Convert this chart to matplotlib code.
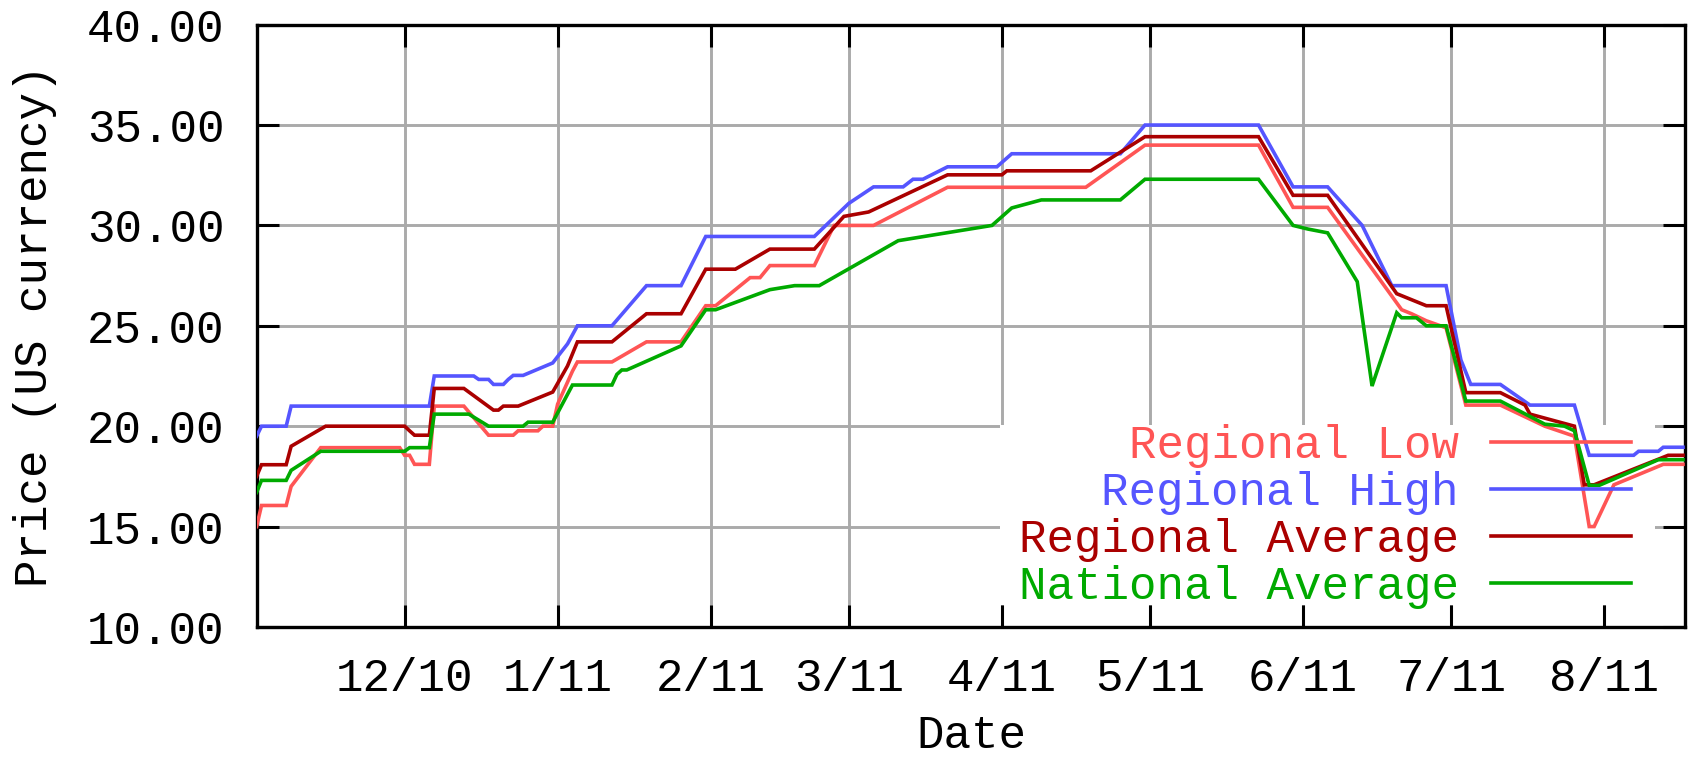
import matplotlib
matplotlib.use('Agg')
import matplotlib.pyplot as plt
from matplotlib.patches import Rectangle
from matplotlib.ticker import FormatStrFormatter
import pandas as pd

plt.rcParams['font.family'] = ['Liberation Mono', 'DejaVu Sans Mono', 'DejaVu Sans']

# ---------------- data ----------------
low_dates = ['2010-11-01', '2010-11-02', '2010-11-07', '2010-11-08', '2010-11-14', '2010-11-30',
             '2010-12-01', '2010-12-02', '2010-12-03', '2010-12-06', '2010-12-07', '2010-12-13',
             '2010-12-18', '2010-12-23', '2010-12-24', '2010-12-28', '2010-12-29', '2010-12-31',
             '2011-01-01', '2011-01-04', '2011-01-05', '2011-01-12', '2011-01-19', '2011-01-26',
             '2011-01-31', '2011-02-02', '2011-02-09', '2011-02-11', '2011-02-13', '2011-02-22',
             '2011-02-26', '2011-03-06', '2011-03-21', '2011-04-18', '2011-04-30', '2011-05-23',
             '2011-05-30', '2011-06-06', '2011-06-21', '2011-06-23', '2011-06-26', '2011-06-30',
             '2011-07-04', '2011-07-11', '2011-07-20', '2011-07-26', '2011-07-29', '2011-07-30',
             '2011-08-03', '2011-08-13', '2011-08-17']
low_vals = [15.0, 16.05, 16.05, 17.0, 18.93, 18.93,
            18.55, 18.55, 18.1, 18.1, 21.0, 21.0,
            19.55, 19.55, 19.77, 19.77, 20.0, 20.0,
            21.1, 22.74, 23.2, 23.2, 24.2, 24.2,
            26.0, 26.0, 27.4, 27.4, 28.0, 28.0,
            30.0, 30.0, 31.9, 31.9, 34.0, 34.0,
            30.9, 30.9, 25.8, 25.6, 25.25, 24.9,
            21.05, 21.05, 20.0, 19.5, 15.0, 15.0,
            17.08, 18.1, 18.1]

high_dates = ['2010-11-01', '2010-11-02', '2010-11-07', '2010-11-08', '2010-12-06', '2010-12-07',
              '2010-12-15', '2010-12-16', '2010-12-18', '2010-12-19', '2010-12-21', '2010-12-22',
              '2010-12-23', '2010-12-25', '2010-12-31', '2011-01-03', '2011-01-05', '2011-01-12',
              '2011-01-19', '2011-01-26', '2011-01-31', '2011-02-22', '2011-03-01', '2011-03-06',
              '2011-03-12', '2011-03-14', '2011-03-16', '2011-03-21', '2011-03-31', '2011-04-03',
              '2011-04-25', '2011-04-30', '2011-05-23', '2011-05-30', '2011-06-06', '2011-06-13',
              '2011-06-19', '2011-06-30', '2011-07-03', '2011-07-05', '2011-07-11', '2011-07-17',
              '2011-07-26', '2011-07-29', '2011-08-07', '2011-08-08', '2011-08-12', '2011-08-13',
              '2011-08-17']
high_vals = [19.5, 20.0, 20.0, 21.0, 21.0, 22.5,
             22.5, 22.33, 22.33, 22.08, 22.08, 22.33,
             22.53, 22.53, 23.15, 24.1, 25.0, 25.0,
             27.0, 27.0, 29.45, 29.45, 31.1, 31.92,
             31.92, 32.3, 32.3, 32.92, 32.92, 33.57,
             33.57, 35.0, 35.0, 31.92, 31.92, 30.0,
             27.0, 27.0, 23.3, 22.08, 22.08, 21.05,
             21.05, 18.55, 18.55, 18.75, 18.75, 18.95,
             18.95]

avg_dates = ['2010-11-01', '2010-11-02', '2010-11-07', '2010-11-08', '2010-11-15', '2010-12-01',
             '2010-12-02', '2010-12-03', '2010-12-06', '2010-12-07', '2010-12-13', '2010-12-19',
             '2010-12-20', '2010-12-21', '2010-12-24', '2010-12-31', '2011-01-03', '2011-01-05',
             '2011-01-12', '2011-01-19', '2011-01-26', '2011-01-31', '2011-02-06', '2011-02-13',
             '2011-02-22', '2011-02-28', '2011-03-05', '2011-03-21', '2011-04-01', '2011-04-02',
             '2011-04-19', '2011-04-30', '2011-05-23', '2011-05-30', '2011-06-06', '2011-06-20',
             '2011-06-26', '2011-06-30', '2011-07-04', '2011-07-11', '2011-07-16', '2011-07-17',
             '2011-07-26', '2011-07-28', '2011-07-30', '2011-08-14', '2011-08-17']
avg_vals = [17.5, 18.08, 18.08, 19.0, 20.0, 20.0,
            19.77, 19.55, 19.55, 21.88, 21.88, 20.8,
            20.8, 21.0, 21.0, 21.7, 23.0, 24.2,
            24.2, 25.6, 25.6, 27.82, 27.82, 28.82,
            28.82, 30.45, 30.67, 32.52, 32.52, 32.72,
            32.72, 34.42, 34.42, 31.5, 31.5, 26.6,
            26.0, 26.0, 21.67, 21.67, 21.05, 20.6,
            20.0, 17.08, 17.08, 18.55, 18.55]

nat_dates = ['2010-11-01', '2010-11-02', '2010-11-07', '2010-11-08', '2010-11-14', '2010-12-01',
             '2010-12-02', '2010-12-06', '2010-12-07', '2010-12-14', '2010-12-18', '2010-12-25',
             '2010-12-26', '2010-12-31', '2011-01-04', '2011-01-12', '2011-01-13', '2011-01-14',
             '2011-01-15', '2011-01-26', '2011-01-31', '2011-02-02', '2011-02-13', '2011-02-18',
             '2011-02-23', '2011-03-11', '2011-03-30', '2011-04-03', '2011-04-09', '2011-04-25',
             '2011-04-30', '2011-05-23', '2011-05-30', '2011-06-02', '2011-06-06', '2011-06-12',
             '2011-06-15', '2011-06-20', '2011-06-21', '2011-06-24', '2011-06-26', '2011-06-30',
             '2011-07-04', '2011-07-11', '2011-07-20', '2011-07-24', '2011-07-26', '2011-07-29',
             '2011-07-31', '2011-08-12', '2011-08-17']
nat_vals = [16.7, 17.3, 17.3, 17.8, 18.75, 18.75,
            18.93, 18.93, 20.6, 20.6, 20.0, 20.0,
            20.2, 20.2, 22.05, 22.05, 22.58, 22.8,
            22.8, 24.0, 25.8, 25.8, 26.8, 27.0,
            27.0, 29.24, 30.0, 30.87, 31.27, 31.27,
            32.3, 32.3, 30.0, 29.82, 29.63, 27.2,
            22.0, 25.65, 25.4, 25.4, 25.0, 25.0,
            21.25, 21.25, 20.1, 20.0, 19.77, 17.05,
            17.05, 18.33, 18.33]

series_labels = ['Regional Low', 'Regional High', 'Regional Average', 'National Average']
series_colors = ['#ff5555', '#5555ff', '#aa0000', '#00aa00']

month_ticks = ['2010-12-01', '2011-01-01', '2011-02-01', '2011-03-01', '2011-04-01',
               '2011-05-01', '2011-06-01', '2011-07-01', '2011-08-01']
month_labels = ['12/10', '1/11', '2/11', '3/11', '4/11', '5/11', '6/11', '7/11', '8/11']
y_ticks = [10, 15, 20, 25, 30, 35, 40]

FS = 33

# ---------------- figure ----------------
fig = plt.figure(figsize=(16.88, 7.59), dpi=100)
ax = fig.add_axes([0.152, 0.174, 0.8465, 0.7935])

all_series = [(low_dates, low_vals), (high_dates, high_vals),
              (avg_dates, avg_vals), (nat_dates, nat_vals)]
for (d, v), lab, col in zip(all_series, series_labels, series_colors):
    ax.plot(pd.to_datetime(d), v, color=col, lw=2.6, label=lab, zorder=3,
            solid_joinstyle='miter')

ax.set_xlim(pd.Timestamp(low_dates[0]), pd.Timestamp(low_dates[-1]) + pd.Timedelta(hours=12))
ax.set_ylim(y_ticks[0], y_ticks[-1])
ax.set_yticks(y_ticks)
ax.yaxis.set_major_formatter(FormatStrFormatter('%.2f'))
ax.set_xticks(pd.to_datetime(month_ticks))
ax.set_xticklabels(month_labels)

ax.tick_params(direction='in', length=16, width=2.2, top=True, right=True,
               labelsize=FS, colors='black')
ax.tick_params(axis='x', pad=22)
ax.tick_params(axis='y', pad=23)

ax.grid(True, color='#aaaaaa', lw=2.1)
ax.set_axisbelow(True)
for s in ax.spines.values():
    s.set_linewidth(2.4)
    s.set_color('black')

# white area behind the key (hides the grid, not the data)
ax.add_patch(Rectangle((0.52, 0.0365), 0.459, 0.2995, transform=ax.transAxes,
                       facecolor='white', edgecolor='none', zorder=1))

ax.set_xlabel('Date', fontsize=FS)
ax.xaxis.set_label_coords(0.5, -0.1805)
ax.xaxis.label.set_va('center')
ax.set_ylabel('Price (US currency)', fontsize=FS)
ax.yaxis.set_label_coords(-0.1553, 0.5)
ax.yaxis.label.set_va('center')

leg = ax.legend(loc='center right', bbox_to_anchor=(0.962, 0.1834), frameon=False,
                fontsize=FS, markerfirst=False, handlelength=3.06, handletextpad=0.70,
                labelspacing=0.06, borderpad=0, borderaxespad=0, labelcolor='linecolor')

fig.savefig('out.png', dpi=100)
